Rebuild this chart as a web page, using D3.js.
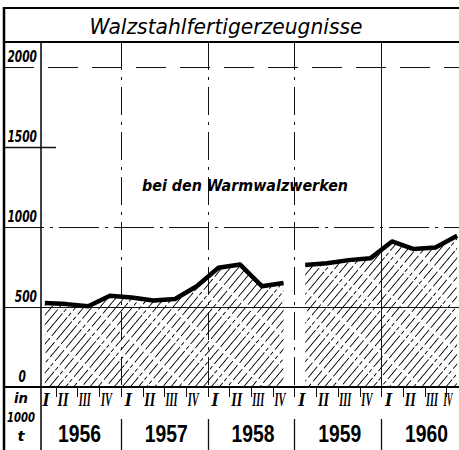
<!DOCTYPE html>
<meta charset="utf-8">
<style>
body { margin: 0; background: #fff; }
svg { display: block; }
.frame { stroke: #000; fill: none; }
.grid { stroke: #111; fill: none; }
.lbl { font-family: "DejaVu Sans", sans-serif; font-weight: bold; font-style: italic; fill: #000; }
.quarter { font-family: "Liberation Serif", serif; font-weight: bold; font-style: italic; fill: #000; }
.year { font-family: "Liberation Sans Narrow", "Liberation Sans", sans-serif; font-weight: bold; fill: #000; }
</style>
<body>
<script src="https://cdn.jsdelivr.net/npm/d3@7"></script>
<script>

var width = 459,
    height = 450;

// data (1000 t per quarter)
var title = "Walzstahlfertigerzeugnisse";
var note = "bei den Warmwalzwerken";
var years = ["1956", "1957", "1958", "1959", "1960"];
var quarters = ["I", "II", "III", "IV"];
var yTicks = [0, 500, 1000, 1500, 2000];
var unitLines = ["in", "1000", "t"];
var output = [525, 518, 505, 570, 560, 540, 550, 630, 745, 765, 630, 650,
              762, 773, 793, 804, 910, 862, 872, 945];
// the curve is interrupted between 1958 IV and 1959 I
var segments = [[0, 12], [12, 20]];

var x = d3.scaleLinear().domain([0, 20]).range([34, 468]);
var y = d3.scaleLinear().domain([0, 2000]).range([387, 67]);

var svg = d3.select("body").append("svg")
    .attr("width", width)
    .attr("height", height);

var defs = svg.append("defs");
var pat = defs.append("pattern")
    .attr("id", "hatch")
    .attr("patternUnits", "userSpaceOnUse")
    .attr("width", 6.2)
    .attr("height", 50)
    .attr("patternTransform", "rotate(40)");
pat.append("line")
    .attr("x1", 1).attr("y1", 0).attr("x2", 1).attr("y2", 50)
    .attr("stroke", "#000")
    .attr("stroke-width", 1)
    .attr("shape-rendering", "crispEdges")
    .attr("stroke-dasharray", "24,3,14,3,4,2");

var pts = output.map(function(v, i) { return {i: i, v: v}; });

var area = d3.area()
    .x(function(d) { return x(d.i + 0.5); })
    .y0(y(0))
    .y1(function(d) { return y(d.v); });

var line = d3.line()
    .x(function(d) { return x(d.i + 0.5); })
    .y(function(d) { return y(d.v); });

var segData = segments.map(function(s) { return pts.slice(s[0], s[1]); });

// hatched areas
svg.selectAll(".area")
    .data(segData)
  .enter().append("path")
    .attr("class", "area")
    .attr("d", area)
    .attr("fill", "url(#hatch)");

// horizontal grid lines
svg.selectAll(".hgrid")
    .data(yTicks.filter(function(d) { return d > 0; }))
  .enter().append("line")
    .attr("class", "grid hgrid")
    .attr("x1", 4)
    .attr("x2", function(d) { return d === 1500 ? 56 : width; })
    .attr("y1", function(d) { return y(d) + 0.5; })
    .attr("y2", function(d) { return y(d) + 0.5; })
    .attr("stroke-width", function(d) { return d === 1500 ? 1.6 : 1; })
    .attr("stroke-dasharray", function(d) {
      return d === 1000 ? "40,6,3,6" : (d === 2000 ? "30,14" : null);
    });

// year dividers
svg.selectAll(".vgrid")
    .data(d3.range(1, years.length))
  .enter().append("line")
    .attr("class", "grid vgrid")
    .attr("x1", function(k) { return Math.round(x(4 * k)) + 0.5; })
    .attr("x2", function(k) { return Math.round(x(4 * k)) + 0.5; })
    .attr("y1", 42).attr("y2", 387)
    .attr("stroke-width", 1)
    .attr("stroke-dasharray", function(k) { return k === 4 ? null : "28,7,3,7"; });

// curve
svg.selectAll(".curve")
    .data(segData)
  .enter().append("path")
    .attr("class", "curve")
    .attr("d", line)
    .attr("fill", "none")
    .attr("stroke", "#000")
    .attr("stroke-width", 4.5)
    .attr("stroke-linejoin", "round");

// frame
svg.append("line").attr("class", "frame").attr("x1", 4).attr("x2", width).attr("y1", 8).attr("y2", 8).attr("stroke-width", 2);
svg.append("line").attr("class", "frame").attr("x1", 4).attr("x2", width).attr("y1", 42).attr("y2", 42).attr("stroke-width", 2);
svg.append("line").attr("class", "frame").attr("x1", 4).attr("x2", width).attr("y1", 387).attr("y2", 387).attr("stroke-width", 2);
svg.append("line").attr("class", "frame").attr("x1", 4).attr("x2", 4).attr("y1", 7).attr("y2", height).attr("stroke-width", 2.5);
svg.append("line").attr("class", "frame").attr("x1", 41).attr("x2", 41).attr("y1", 42).attr("y2", height).attr("stroke-width", 1.5);

// title
svg.append("text")
    .attr("x", 226).attr("y", 34)
    .attr("text-anchor", "middle")
    .attr("textLength", 273)
    .attr("lengthAdjust", "spacingAndGlyphs")
    .style("font-family", "'DejaVu Sans', sans-serif")
    .style("font-style", "italic")
    .style("font-size", "22px")
    .text(title);

// note
svg.append("text")
    .attr("x", 245).attr("y", 191)
    .attr("text-anchor", "middle")
    .attr("textLength", 206)
    .attr("lengthAdjust", "spacingAndGlyphs")
    .style("font-family", "'DejaVu Sans', sans-serif")
    .style("font-style", "italic")
    .style("font-weight", "bold")
    .style("font-size", "15px")
    .text(note);

// y labels
svg.selectAll(".ylab")
    .data(yTicks)
  .enter().append("text")
    .attr("class", "lbl ylab")
    .attr("x", function(d) { return d === 0 ? 26 : 37; })
    .attr("y", function(d) { return y(d) - 5; })
    .attr("text-anchor", "end")
    .style("font-size", "16px")
    .attr("textLength", function(d) { return String(d).length * 7.4; })
    .attr("lengthAdjust", "spacingAndGlyphs")
    .text(function(d) { return d; });

// unit labels
svg.selectAll(".unit")
    .data(unitLines)
  .enter().append("text")
    .attr("class", "lbl unit")
    .attr("x", 21)
    .attr("y", function(d, i) { return [403, 422, 441][i]; })
    .attr("text-anchor", "middle")
    .style("font-size", "14px")
    .attr("textLength", function(d) { return d.length * 7; })
    .attr("lengthAdjust", "spacingAndGlyphs")
    .text(function(d) { return d; });

// quarter ticks
svg.selectAll(".qtick")
    .data(d3.range(1, 20))
  .enter().append("line")
    .attr("class", "grid qtick")
    .attr("x1", function(i) { return Math.round(x(i)) + 0.5; })
    .attr("x2", function(i) { return Math.round(x(i)) + 0.5; })
    .attr("y1", 387)
    .attr("y2", 397)
    .attr("stroke-width", 1);

// quarter labels (squeezed horizontally like the drawn numerals)
var qData = d3.range(20).map(function(i) { return {i: i, q: quarters[i % 4]}; });
svg.selectAll(".quarter")
    .data(qData)
  .enter().append("text")
    .attr("class", "quarter")
    .attr("text-anchor", "middle")
    .style("font-size", "19px")
    .text(function(d) { return d.q; })
    .attr("transform", function(d) {
      var cx = d.i === 0 ? 46 : Math.min(x(d.i + 0.5) - 3.5, 448);
      var target = d.q.length === 1 ? null : (d.i === 19 ? 9 : (d.q.length === 2 ? 11 : 12));
      var natural = this.getComputedTextLength();
      var s = target ? Math.min(1, target / natural) : 1;
      return "translate(" + cx + ",406) scale(" + s + ",1)";
    });

// year dividers in the label row
svg.selectAll(".ydiv")
    .data(d3.range(1, years.length))
  .enter().append("line")
    .attr("class", "grid ydiv")
    .attr("x1", function(k) { return Math.round(x(4 * k)) + 0.5; })
    .attr("x2", function(k) { return Math.round(x(4 * k)) + 0.5; })
    .attr("y1", 419).attr("y2", height)
    .attr("stroke-width", 1.3);

// year labels
svg.selectAll(".year")
    .data(years)
  .enter().append("text")
    .attr("class", "year")
    .attr("x", function(d, k) { return x(4 * k + 2) + 2; })
    .attr("y", 442)
    .attr("text-anchor", "middle")
    .style("font-size", "23px")
    .attr("textLength", 43)
    .attr("lengthAdjust", "spacingAndGlyphs")
    .text(function(d) { return d; });

</script>
